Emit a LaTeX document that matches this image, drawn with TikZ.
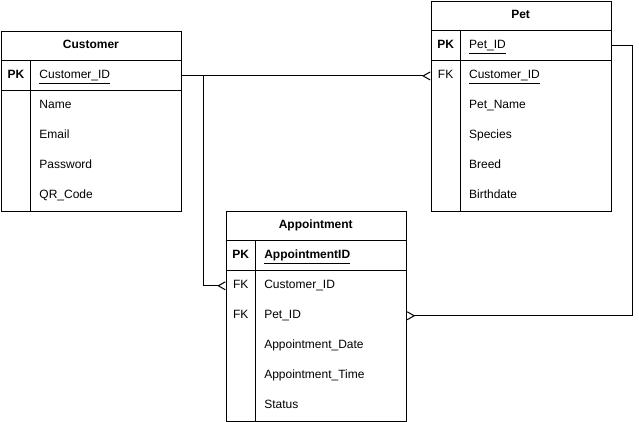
\documentclass[tikz,border=0pt]{standalone}
\usepackage{fontspec}
\setmainfont{Liberation Sans}
\usetikzlibrary{arrows.meta}

\begin{document}
\begin{tikzpicture}[x=0.75pt, y=-0.75pt, line width=0.75pt]
        \tikzstyle{table} = [draw, anchor=north west, minimum width=135pt, inner sep=0pt]
        \tikzstyle{title} = [font=\fontsize{9}{11}\selectfont\bfseries, text height=6.5pt, text depth=2pt]
        \tikzstyle{key} = [font=\fontsize{9}{11}\selectfont\bfseries, text height=6.5pt, text depth=2pt]
        \tikzstyle{fkey} = [font=\fontsize{9}{11}\selectfont, text height=6.5pt, text depth=2pt]
        \tikzstyle{field} = [anchor=west, inner sep=0pt, font=\fontsize{9}{11}\selectfont, text height=6.5pt, text depth=2pt]
        \tikzstyle{many} = [-{Straight Barb[reversed, length=5.25pt, width=6pt, line width=0.75pt]}]
        \useasboundingbox (-0.5,-0.5) rectangle (639,421);
        % Customer
        \node[table, minimum height=135pt] (Cust) at (0.5,30.5) {};
        \node[title] (CustT) at (90.5,45.5) {Customer};
        \draw (0.5,60.5) -- (180.5,60.5);
        \draw (0.5,90.5) -- (180.5,90.5);
        \draw (30.5,60.5) -- (30.5,210.5);
        \node[key] (CustK) at (15.5,75.5) {PK};
        \node[field] (CustPK) at (38.5,75.5) {\underline{Customer\_ID}};
        \node[field] (CustA) at (38.5,105.5) {Name};
        \node[field] (CustB) at (38.5,135.5) {Email};
        \node[field] (CustC) at (38.5,165.5) {Password};
        \node[field] (CustD) at (38.5,195.5) {QR\_Code};
        % Pet
        \node[table, minimum height=157.5pt] (Pet) at (430.5,0.5) {};
        \node[title] (PetT) at (520.5,15.5) {Pet};
        \draw (430.5,30.5) -- (610.5,30.5);
        \draw (430.5,60.5) -- (610.5,60.5);
        \draw (460.5,30.5) -- (460.5,210.5);
        \node[key] (PetK) at (445.5,45.5) {PK};
        \node[fkey] (PetF) at (445.5,75.5) {FK};
        \node[field] (PetPK) at (468.5,45.5) {\underline{Pet\_ID}};
        \node[field] (PetFK) at (468.5,75.5) {\underline{Customer\_ID}};
        \node[field] (PetA) at (468.5,105.5) {Pet\_Name};
        \node[field] (PetB) at (468.5,135.5) {Species};
        \node[field] (PetC) at (468.5,165.5) {Breed};
        \node[field] (PetD) at (468.5,195.5) {Birthdate};
        % Appointment
        \node[table, minimum height=157.5pt] (Appt) at (225.5,210.5) {};
        \node[title] (ApptT) at (315.5,225.5) {Appointment};
        \draw (225.5,240.5) -- (405.5,240.5);
        \draw (225.5,270.5) -- (405.5,270.5);
        \draw (255.5,240.5) -- (255.5,420.5);
        \node[key] (ApptK) at (240.5,255.5) {PK};
        \node[fkey] (ApptF1) at (240.5,285.5) {FK};
        \node[fkey] (ApptF2) at (240.5,315.5) {FK};
        \node[field] (ApptPK) at (263.5,255.5) {\bfseries\underline{AppointmentID}};
        \node[field] (ApptFK1) at (263.5,285.5) {Customer\_ID};
        \node[field] (ApptFK2) at (263.5,315.5) {Pet\_ID};
        \node[field] (ApptA) at (263.5,345.5) {Appointment\_Date};
        \node[field] (ApptB) at (263.5,375.5) {Appointment\_Time};
        \node[field] (ApptC) at (263.5,405.5) {Status};
        % relations
        \coordinate (J) at (203.5,75.5);
        \draw[many] (Cust.east |- CustPK) -- (Pet.west |- PetFK);
        \draw[many] (J) |- (Appt.west |- ApptFK1);
        \draw[many] (Pet.east |- PetPK) -- ++(21,0) |- (Appt.east |- ApptFK2);
    \end{tikzpicture}
\end{document}
